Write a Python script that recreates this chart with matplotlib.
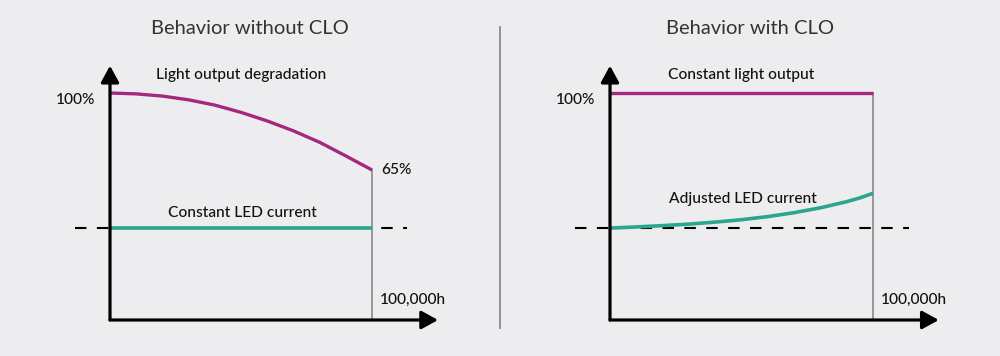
import matplotlib
matplotlib.use("Agg")
import matplotlib.pyplot as plt
from matplotlib.lines import Line2D

plt.rcParams['font.family'] = ['Lato', 'DejaVu Sans']

# ---- data ----
hours_without = [0, 10000, 20000, 30000, 40000, 50000, 60000, 70000, 80000, 90000, 100000]
light_without = [100, 99.6, 98.6, 96.9, 94.5, 91.2, 87.3, 82.8, 77.6, 71.4, 65]
current_without_hours = [0, 100000]
current_without = [38.6, 38.6]

light_with_hours = [0, 100000]
light_with = [100, 100]
hours_with = [0, 10000, 20000, 30000, 40000, 50000, 60000, 70000, 80000, 90000, 95000, 100000]
current_with = [38.6, 39.1, 39.7, 40.4, 41.3, 42.4, 43.8, 45.6, 47.8, 50.6, 52.3, 54.4]

nominal_current = 38.6
end_hours = 100000
titles = ["Behavior without CLO", "Behavior with CLO"]
light_labels = ["Light output degradation", "Constant light output"]
current_labels = ["Constant LED current", "Adjusted LED current"]
end_label = "100,000h"
top_label = "100%"
end_light_label = "65%"

# ---- styles ----
BG = "#ededef"
MAGENTA = "#a3287e"
GREEN = "#2aa58e"
GRAY = "#948e93"
TXT = "#111111"

W, H = 1000, 356
fig = plt.figure(figsize=(10, 3.56), dpi=100, facecolor=BG)

def make_axes(x0, x1):
    y_bottom, y_top = 320, 93
    ax = fig.add_axes([x0 / W, 1 - y_bottom / H, (x1 - x0) / W, (y_bottom - y_top) / H])
    ax.set_xlim(0, end_hours)
    ax.set_ylim(-3.2, 100)
    ax.axis('off')
    ax.patch.set_alpha(0)
    return ax

axL = make_axes(110, 372)
axR = make_axes(610, 873)

def decorate(ax, end_top, x_arrow, y_arrow):
    ax.plot([end_hours, end_hours], [-3.2, end_top], color=GRAY, lw=1.3, clip_on=False, zorder=1)
    ax.add_line(Line2D([-0.134, 1.135], [nominal_current, nominal_current],
                       transform=ax.get_yaxis_transform(),
                       color='black', lw=1.5, ls=(0, (5.5, 5)), clip_on=False, zorder=1))
    kw = dict(arrowstyle='-|>,head_length=1.0,head_width=0.55', color='black', lw=2.3,
              shrinkA=0, shrinkB=0, mutation_scale=10)
    ax.annotate('', xy=(x_arrow, 0), xytext=(0, 0), xycoords='axes fraction',
                textcoords='axes fraction', arrowprops=kw, annotation_clip=False, zorder=5)
    ax.annotate('', xy=(0, y_arrow), xytext=(0, 0), xycoords='axes fraction',
                textcoords='axes fraction', arrowprops=kw, annotation_clip=False, zorder=5)

decorate(axL, light_without[-1], 1.252, 1.12)
decorate(axR, light_with[-1], 1.25, 1.12)

line_kw = dict(clip_on=False, zorder=3, solid_capstyle='butt', solid_joinstyle='round')
axL.plot(hours_without, light_without, color=MAGENTA, lw=2.4, **line_kw)
axL.plot(current_without_hours, current_without, color=GREEN, lw=2.6, **line_kw)
axR.plot(light_with_hours, light_with, color=MAGENTA, lw=2.4, **line_kw)
axR.plot(hours_with, current_with, color=GREEN, lw=2.6, **line_kw)

fs = 11.2
tkw = dict(fontsize=fs, color=TXT, fontweight='medium')
for ax, ll, cl, cy in ((axL, light_labels[0], current_labels[0], 45.5),
                       (axR, light_labels[1], current_labels[1], 51.8)):
    tr = ax.get_yaxis_transform()
    ax.text(0.5, 108.4, ll, transform=tr, ha='center', va='center', **tkw)
    ax.text(0.505, cy, cl, transform=tr, ha='center', va='center', **tkw)
    ax.text(-0.057, 96.8, top_label, transform=tr, ha='right', va='center', **tkw)
    ax.text(1.03, 5.9, end_label, transform=tr, ha='left', va='center', **tkw)

axL.text(1.034, light_without[-1], end_light_label, transform=axL.get_yaxis_transform(),
         ha='left', va='center', **tkw)

for xc, t in zip((0.25, 0.75), titles):
    fig.text(xc, 1 - 28 / H, t, ha='center', va='center', fontsize=14.5,
             color='#333333', fontweight='normal')

fig.add_artist(Line2D([0.5, 0.5], [1 - 27 / H, 1 - 328 / H], color='#8c878c', lw=1.3))

fig.savefig("out.png", dpi=100, facecolor=BG)
